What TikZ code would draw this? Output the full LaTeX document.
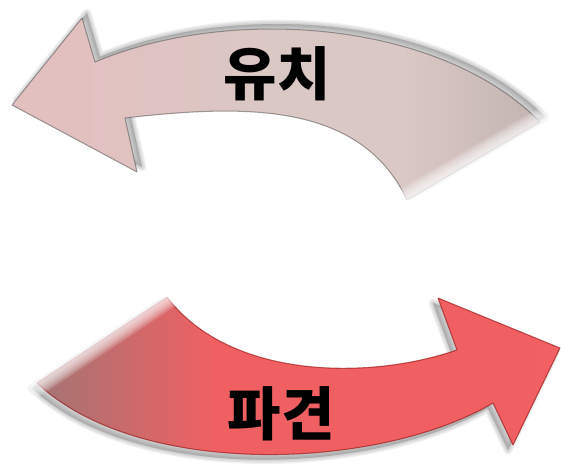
\documentclass[tikz,border=0pt]{standalone}
\usepackage{fontspec}
\newfontfamily\kofont{Noto Sans CJK KR}

\definecolor{rosetip}{RGB}{226,192,192}
\definecolor{rosebody}{RGB}{218,200,196}
\definecolor{rosetail}{RGB}{150,142,142}
\definecolor{redtip}{RGB}{246,98,100}
\definecolor{redbody}{RGB}{240,96,98}
\definecolor{redtail}{RGB}{150,120,120}
\definecolor{shadowgray}{RGB}{105,105,105}

\pgfdeclarehorizontalshading{topfill}{100bp}{color(0bp)=(rosetip); color(30bp)=(rosetip);
  color(50bp)=(rosebody); color(62bp)=(rosebody); color(100bp)=(rosetail)}
\pgfdeclarehorizontalshading{botfill}{100bp}{color(0bp)=(redtail); color(22bp)=(redtail);
  color(42bp)=(redbody); color(70bp)=(redbody); color(100bp)=(redtip)}

% arrow outlines, in pixels
\def\toparrow{(12,105) -- (82,18) -- (95,62) .. controls (230,5) and (440,20) .. (540,122)
  -- (407,200) .. controls (360,100) and (240,105) .. (125,118) -- (137,172) -- cycle}
\def\botarrow{(560,348) -- (513,445) -- (493,403) .. controls (380,470) and (140,480) .. (37,383)
  -- (167,297) .. controls (230,380) and (370,380) .. (457,350) -- (438,298) -- cycle}

\begin{document}
\begin{tikzpicture}[x=0.02cm, y=-0.02cm,
  shadowpass/.style={draw=shadowgray, fill=shadowgray, line join=round, opacity=0.10},
  edge/.style={line join=round, line width=0.6pt, opacity=0.55},
  tailblur/.style={draw=white, line cap=butt, opacity=0.14},
  arrowlabel/.style={font=\kofont\bfseries\fontsize{33}{33}\selectfont, text=black, inner sep=0pt}]
  \useasboundingbox (0,0) rectangle (561,465);

  % soft shadows
  \foreach \w in {1,4,7,10}
    \path[shadowpass, line width=\w*0.5pt, shift={(5,-5)}] \toparrow;
  \foreach \w in {1,4,7,10}
    \path[shadowpass, line width=\w*0.5pt, shift={(-5,5)}] \botarrow;

  % top arrow, pointing left
  \shade[shading=topfill] \toparrow;
  \draw[edge, draw=rosetail!60!black] \toparrow;

  % bottom arrow, pointing right
  \shade[shading=botfill] \botarrow;
  \draw[edge, draw=red!55!black] \botarrow;

  % blurred tail ends
  \coordinate (topA) at (398,205);
  \coordinate (topB) at (549,117);
  \coordinate (botA) at (29,388);
  \coordinate (botB) at (175,291);
  \foreach \w in {26,23,...,2} {
    \draw[tailblur, line width=\w*0.567pt] (topA) -- (topB);
    \draw[tailblur, line width=\w*0.567pt] (botA) -- (botB);
  }

  % labels
  \node[arrowlabel] (yuchi) at (277,74) {유치};
  \node[arrowlabel] (pagyeon) at (281,414) {파견};
\end{tikzpicture}
\end{document}
